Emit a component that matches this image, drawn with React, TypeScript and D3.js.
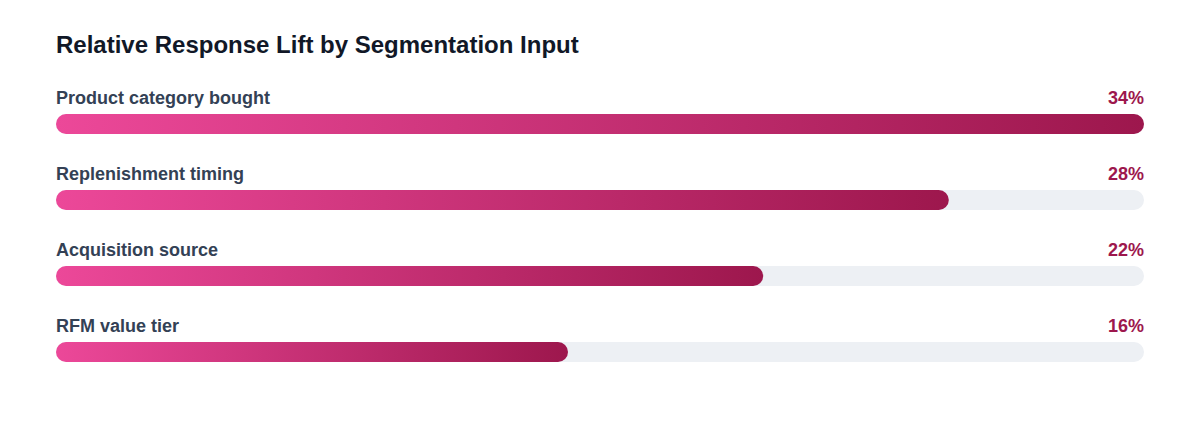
import { useRef, useEffect } from 'react';
import * as d3 from 'd3';

const categories = ['Product category bought', 'Replenishment timing', 'Acquisition source', 'RFM value tier'];
// lift in percent; labels show rounded values
const lift = [34, 27.9, 22.1, 16];

const W = 1200;
const H = 432;

export default function App() {
    const svgRef = useRef<SVGSVGElement | null>(null);

    useEffect(() => {
        if (!svgRef.current) return;
        const svg = d3.select(svgRef.current);
        svg.selectAll('*').remove();

        const left = 56;
        const right = 1144;
        const barH = 20;
        const fmt = d3.format('.0f');

        const x = d3.scaleLinear()
            .domain([0, d3.max(lift)!])
            .range([left, right]);

        const y = d3.scaleBand()
            .domain(categories)
            .range([114, 114 + 76 * categories.length])
            .paddingInner(0);

        const defs = svg.append('defs');
        categories.forEach((_, i) => {
            const g = defs.append('linearGradient')
                .attr('id', `grad-${i}`)
                .attr('x1', '0%').attr('x2', '100%')
                .attr('y1', '0%').attr('y2', '0%');
            g.append('stop').attr('offset', '0%').attr('stop-color', '#ec4899');
            g.append('stop').attr('offset', '100%').attr('stop-color', '#9d174d');
        });

        // title
        svg.append('text')
            .attr('x', left)
            .attr('y', 53)
            .attr('fill', '#111827')
            .style('font-size', '24px')
            .style('font-weight', 700)
            .text('Relative Response Lift by Segmentation Input');

        const rows = svg.selectAll('.row')
            .data(categories)
            .join('g')
            .attr('class', 'row')
            .attr('transform', d => `translate(0, ${y(d)})`);

        rows.append('text')
            .attr('x', left)
            .attr('y', -10)
            .attr('fill', '#334155')
            .style('font-size', '18px')
            .style('font-weight', 700)
            .text(d => d);

        rows.append('text')
            .attr('x', right)
            .attr('y', -10)
            .attr('text-anchor', 'end')
            .attr('fill', '#9d174d')
            .style('font-size', '18px')
            .style('font-weight', 700)
            .text((_, i) => `${fmt(lift[i])}%`);

        // track
        rows.append('rect')
            .attr('x', left)
            .attr('y', 0)
            .attr('width', right - left)
            .attr('height', barH)
            .attr('rx', barH / 2)
            .attr('fill', '#edf0f4');

        rows.append('rect')
            .attr('x', left)
            .attr('y', 0)
            .attr('width', (_, i) => x(lift[i]) - left)
            .attr('height', barH)
            .attr('rx', barH / 2)
            .attr('fill', (_, i) => `url(#grad-${i})`);
    }, []);

    return (
        <svg
            ref={svgRef}
            width={W}
            height={H}
            style={{ position: 'absolute', left: 0, top: 0, background: '#fff', fontFamily: '"Liberation Sans", Arial, Helvetica, sans-serif' }}
        />
    );
}
